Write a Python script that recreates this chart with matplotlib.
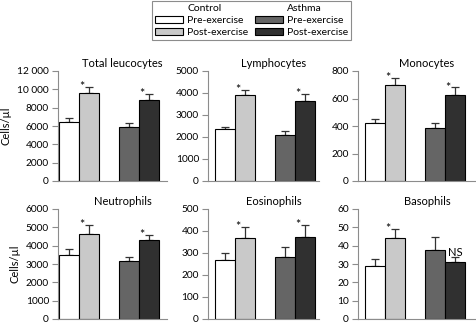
import numpy as np
import matplotlib
matplotlib.use("Agg")
import matplotlib.pyplot as plt
from matplotlib.patches import Patch
from matplotlib.ticker import FuncFormatter, MultipleLocator

plt.rcParams['font.family'] = ['Lato', 'DejaVu Sans']

# data
panels = ["Total leucocytes", "Lymphocytes", "Monocytes",
          "Neutrophils", "Eosinophils", "Basophils"]
ctrl_pre = [6470, 2350, 423, 3476, 269, 28.7]
ctrl_pre_err = [435, 120, 29, 324, 31, 4.0]
ctrl_post = [9630, 3910, 699, 4650, 368, 44.2]
ctrl_post_err = [590, 230, 48, 500, 48, 5.1]
asth_pre = [5925, 2090, 382, 3190, 284, 37.5]
asth_pre_err = [405, 180, 41, 200, 43, 7.1]
asth_post = [8840, 3640, 627, 4290, 372, 30.9]
asth_post_err = [620, 310, 53, 270, 54, 2.7]
y_max = [12000, 5000, 800, 6000, 500, 60]
y_step = [2000, 1000, 200, 1000, 100, 10]
ctrl_mark = ["*", "*", "*", "*", "*", "*"]
asth_mark = ["*", "*", "*", "*", "*", "NS"]

colors = ["white", "#c9c9c9", "#656565", "#303030"]
series_names = ["Pre-exercise", "Post-exercise", "Pre-exercise", "Post-exercise"]
xpos = [0, 1.02, 3.0, 4.02]
axcol = "#8c8c8c"

fig = plt.figure(figsize=(4.76, 3.24), dpi=100)
W, H = 476.0, 324.0

# column layout in pixels: (left, width, xlim)
cols = [(58, 109, (-0.55, 4.9)), (208, 111, (-0.85, 4.7)), (358, 118, (-0.85, 5.05))]
rows = [(181, 110), (319, 110)]  # zero line y, height


def fmt(v, pos):
    v = int(round(v))
    if v >= 10000:
        return "{0} {1:03d}".format(v // 1000, v % 1000)
    return str(v)


for i, name in enumerate(panels):
    r, c = divmod(i, 3)
    left, width, xl = cols[c]
    y0, h = rows[r]
    ax = fig.add_axes([left / W, (H - y0) / H, width / W, h / H])
    vals = [ctrl_pre[i], ctrl_post[i], asth_pre[i], asth_post[i]]
    errs = [ctrl_pre_err[i], ctrl_post_err[i], asth_pre_err[i], asth_post_err[i]]
    for x, v, e, col in zip(xpos, vals, errs, colors):
        ax.bar(x, v, width=1.0, color=col, edgecolor="black", linewidth=0.8, zorder=2)
        ax.errorbar(x, v, yerr=[[0], [e]], fmt="none", ecolor="#333333",
                    elinewidth=0.9, capsize=3, capthick=0.9, zorder=1)
    # significance marks
    ax.text(xpos[1] - 0.4, vals[1] + errs[1], ctrl_mark[i], ha="center", va="center",
            fontsize=9, zorder=3)
    if asth_mark[i] == "*":
        ax.text(xpos[3] - 0.4, vals[3] + errs[3], "*", ha="center", va="center",
                fontsize=9, zorder=3)
    else:
        ax.text(xpos[3], vals[3] + errs[3] - y_max[i] * 0.01, asth_mark[i], ha="center",
                va="bottom", fontsize=8, zorder=3)

    ax.set_xlim(*xl)
    ax.set_ylim(0, y_max[i])
    ax.yaxis.set_major_locator(MultipleLocator(y_step[i]))
    ax.yaxis.set_major_formatter(FuncFormatter(fmt))
    ax.set_xticks([])
    for s in ["top", "right"]:
        ax.spines[s].set_visible(False)
    for s in ["left", "bottom"]:
        ax.spines[s].set_color(axcol)
        ax.spines[s].set_linewidth(0.8)
    ax.tick_params(axis="y", length=4.5, width=0.8, color=axcol, pad=2, labelsize=7.3)
    ax.patch.set_alpha(0)
    ax.text(0.5 + 10 / width, 1.02, name, transform=ax.transAxes, ha="center",
            va="bottom", fontsize=8)
    if c == 0:
        ax.set_ylabel("Cells/\u00b5l", fontsize=8, labelpad=4)

# legend with group headers
blank = Patch(visible=False)
handles = [blank] + [Patch(facecolor=colors[k], edgecolor="black", linewidth=0.8) for k in (0, 1)] + \
          [blank] + [Patch(facecolor=colors[k], edgecolor="black", linewidth=0.8) for k in (2, 3)]
labels = ["Control", series_names[0], series_names[1], "Asthma", series_names[2], series_names[3]]
leg = fig.legend(handles, labels, ncol=2, loc="upper center", bbox_to_anchor=(251.5 / W, 0.997),
                 fontsize=7.5, frameon=True, fancybox=False, edgecolor=axcol, framealpha=1,
                 handlelength=2.7, handleheight=0.75, labelspacing=0.25, columnspacing=0.6,
                 handletextpad=0.4, borderpad=0.25, borderaxespad=0)
leg.get_frame().set_linewidth(0.8)

fig.savefig("out.png", dpi=100)
